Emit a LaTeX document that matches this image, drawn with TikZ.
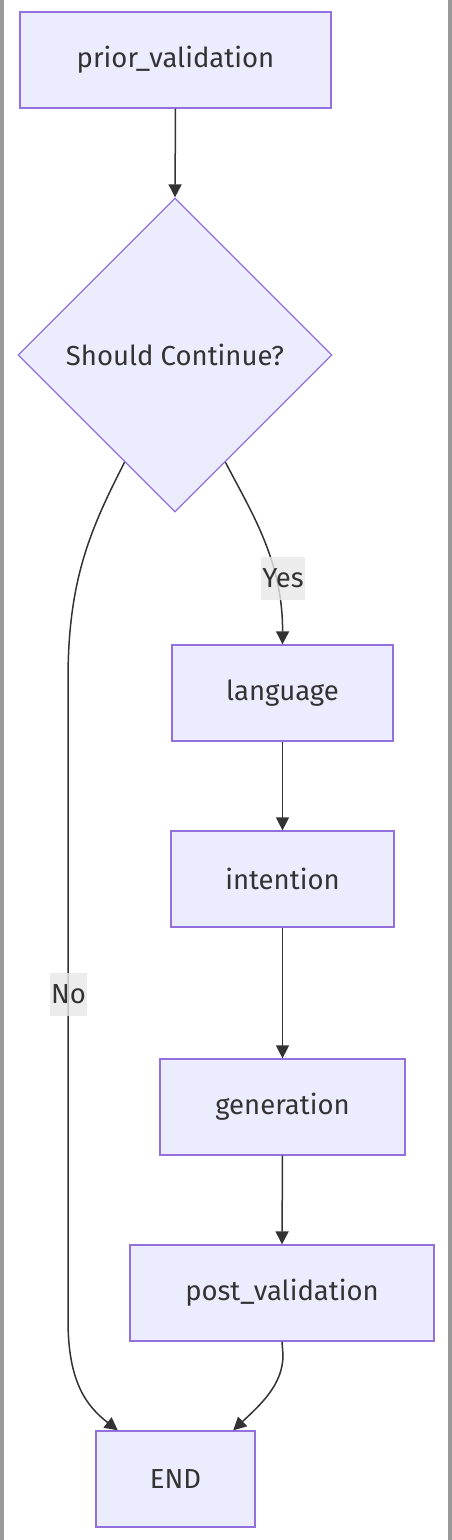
\documentclass[tikz,border=0pt]{standalone}
\usepackage{fontspec}
\setmainfont{Fira Sans}
\usetikzlibrary{shapes.geometric,arrows.meta,calc}
\definecolor{nodefill}{HTML}{ECECFF}
\definecolor{nodeline}{HTML}{9370DB}
\definecolor{edgec}{HTML}{333333}
\definecolor{lblbg}{HTML}{E8E8E8}
\definecolor{sidebar}{HTML}{999999}
\begin{document}
\begin{tikzpicture}[x=1pt,y=-1pt,
  box/.style={draw=nodeline, fill=nodefill, line width=1.3pt, minimum height=96pt, inner sep=0pt, font=\fontsize{27.5}{32}\selectfont, text=edgec},
  decision/.style={diamond, draw=nodeline, fill=nodefill, line width=1.3pt, minimum width=314pt, minimum height=314pt, inner sep=0pt, font=\fontsize{27.5}{32}\selectfont, text=edgec},
  edge/.style={draw=edgec, line width=1.5pt, -{Triangle[length=13pt,width=13pt]}},
  lbl/.style={fill=lblbg, fill opacity=0.8, text opacity=1, inner xsep=1pt, inner ysep=0pt, minimum height=43pt, font=\fontsize{27.5}{32}\selectfont, text=edgec}]
\useasboundingbox (0,0) rectangle (452,1540);
\fill[white] (0,0) rectangle (452,1540);
\fill[sidebar] (0,0) rectangle (4,1540);
\fill[sidebar] (448,0) rectangle (452,1540);

\node[box, minimum width=311pt] (pv) at (175.5,60) {prior\_validation};
\node[decision] (dec) at (175,355) {Should Continue?};
\node[box, minimum width=221pt] (lang) at (282.5,693) {language};
\node[box, minimum width=223pt] (int) at (282.5,879) {intention};
\node[box, minimum width=245pt] (gen) at (282.5,1107) {generation};
\node[box, minimum width=304pt] (post) at (282,1293) {post\_validation};
\node[box, minimum width=159pt] (end) at (175.5,1479) {END};

\coordinate (decL) at ($(dec.south)!0.32!(dec.west)$);
\coordinate (decR) at ($(dec.south)!0.32!(dec.east)$);
\coordinate (endL) at ($(end.north west)!0.14!(end.north east)$);
\coordinate (endR) at ($(end.north west)!0.86!(end.north east)$);

\draw[edge] (pv.south) -- (dec.north);
\draw[edge] (decR) .. controls (250,510) and (283,560) .. (lang.north);
\draw[edge] (lang.south) -- (int.north);
\draw[edge] (int.south) -- (gen.north);
\draw[edge] (gen.south) -- (post.north);
\draw[edge] (decL) .. controls (90,530) and (68,580) .. (68,680) -- (68,1320) .. controls (68,1380) and (85,1405) .. (endL);
\draw[edge] (post.south) -- (283,1355) .. controls (283,1385) and (260,1405) .. (endR);

\node[lbl] (yes) at (283,578) {Yes};
\node[lbl] (no) at (68.5,994) {No};
\end{tikzpicture}
\end{document}
